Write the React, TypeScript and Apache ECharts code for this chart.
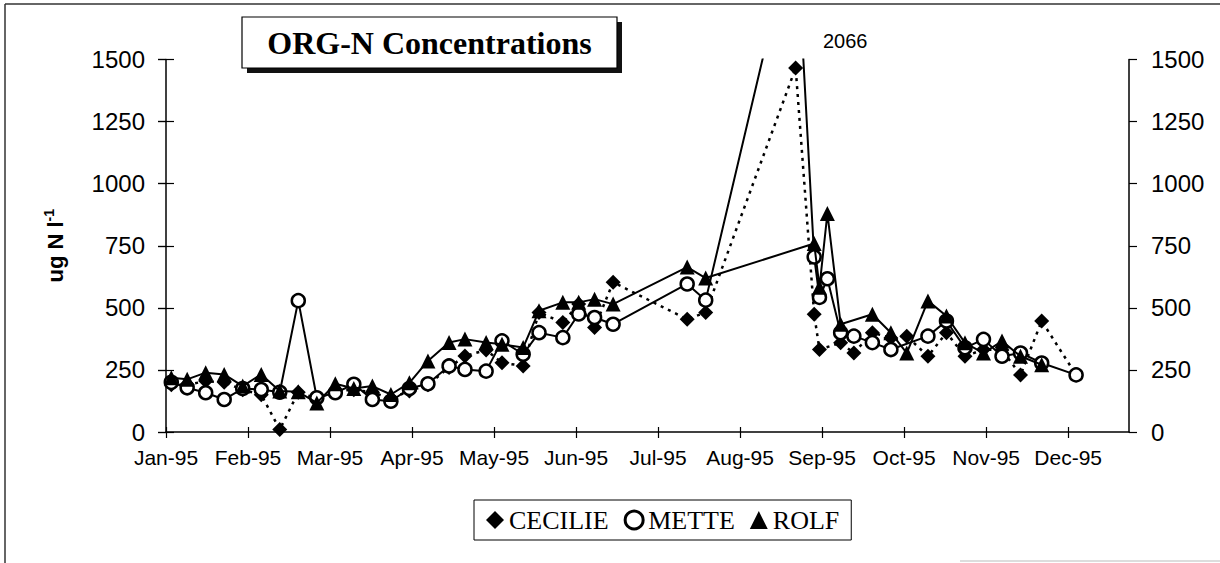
import React, { useEffect, useRef } from 'react';
import * as echarts from 'echarts';

// ---------- data ----------
const monthLabels = ['Jan-95', 'Feb-95', 'Mar-95', 'Apr-95', 'May-95', 'Jun-95', 'Jul-95', 'Aug-95', 'Sep-95', 'Oct-95', 'Nov-95', 'Dec-95'];
const MAJOR_UNIT_DAYS = 31;
const AXIS_END_DAY = 364;
const yTickValues = [0, 250, 500, 750, 1000, 1250, 1500];

const sampleDates = [
  '1995-01-03', '1995-01-09', '1995-01-16', '1995-01-23', '1995-01-30',
  '1995-02-06', '1995-02-13', '1995-02-20', '1995-02-27',
  '1995-03-06', '1995-03-13', '1995-03-20', '1995-03-27',
  '1995-04-03', '1995-04-10', '1995-04-18', '1995-04-24',
  '1995-05-02', '1995-05-08', '1995-05-16', '1995-05-22', '1995-05-31',
  '1995-06-06', '1995-06-12', '1995-06-19',
  '1995-07-17', '1995-07-24',
  '1995-08-27',
  '1995-09-03', '1995-09-05', '1995-09-08', '1995-09-13', '1995-09-18', '1995-09-25',
  '1995-10-02', '1995-10-08', '1995-10-16', '1995-10-23', '1995-10-30',
  '1995-11-06', '1995-11-13', '1995-11-20', '1995-11-28',
  '1995-12-11',
];

const cecilieValues: (number | null)[] = [
  190, 190, 205, 200, 170,
  150, 10, 160, 135,
  165, 170, 160, 135,
  165, 190, 260, 306,
  330, 279, 266, 481, 441,
  515, 421, 603,
  454, 481,
  1466,
  474, 332, null, 359, 318, 400,
  379, 386, 305, 400, 305,
  332, 330, 230, 447,
  230,
];

const metteValues: (number | null)[] = [
  200, 178, 158, 131, 175,
  171, 160, 529, 138,
  158, 192, 131, 124,
  175, 194, 266, 252,
  245, 367, 313, 400, 380,
  475, 461, 434,
  596, 531,
  2066,
  705, 542, 617, 400, 386, 360,
  332, null, 386, 447, 339,
  373, 305, 318, 278,
  230,
];

const rolfValues: (number | null)[] = [
  218, 212, 239, 232, 185,
  232, 165, 162, 117,
  194, 175, 185, 151,
  198, 286, 360, 374,
  360, 353, 340, 488, 522,
  522, 535, 515,
  664, 620,
  null,
  759, 583, 880, 434, null, 474,
  400, 318, 528, 467, 359,
  318, 366, 305, 271,
  null,
];

const peakNote = '2066';

// ---------- helpers ----------
const DAY0 = Date.UTC(1995, 0, 1);
const toDay = (d: string) => (Date.parse(d + 'T00:00:00Z') - DAY0) / 86400000;
const toPairs = (vals: (number | null)[]) =>
  sampleDates
    .map((d, i) => [toDay(d), vals[i]] as [number, number | null])
    .filter((p) => p[1] !== null);
const monthTickDays = monthLabels.map((_, i) => i * MAJOR_UNIT_DAYS);

const SANS = '"Liberation Sans", Arial, Helvetica, sans-serif';
const SERIF = '"Liberation Serif", "Times New Roman", Times, serif';

const axisLineStyle = { color: '#000', width: 1.5 };
const tickLineStyle = { color: '#000', width: 1.2 };

export default function App() {
  const ref = useRef<HTMLDivElement>(null);

  useEffect(() => {
    if (!ref.current) return;
    const chart = echarts.init(ref.current, undefined, { renderer: 'svg' });

    const baseY = {
      type: 'value' as const,
      min: yTickValues[0],
      max: yTickValues[yTickValues.length - 1],
      interval: yTickValues[1] - yTickValues[0],
      splitLine: { show: false },
    };
    const plainNumber = (v: number) => String(v);

    const option: any = {
      animation: false,
      backgroundColor: '#fff',
      grid: { left: 166, right: 91, top: 59.5, bottom: 131 },
      xAxis: [
        {
          type: 'value',
          min: 0,
          max: AXIS_END_DAY,
          interval: MAJOR_UNIT_DAYS,
          position: 'bottom',
          axisLine: { show: true, onZero: false, lineStyle: axisLineStyle },
          axisTick: { show: true, inside: false, length: 6, lineStyle: tickLineStyle, customValues: monthTickDays },
          axisLabel: {
            customValues: monthTickDays,
            formatter: (v: number) => monthLabels[Math.round(v / MAJOR_UNIT_DAYS)] ?? '',
            fontSize: 21,
            fontFamily: SANS,
            color: '#000',
            margin: 15,
          },
          splitLine: { show: false },
        },
        {
          type: 'value',
          min: 0,
          max: AXIS_END_DAY,
          interval: MAJOR_UNIT_DAYS,
          position: 'bottom',
          axisLine: { show: false, onZero: false },
          axisTick: { show: true, inside: true, length: 5, lineStyle: tickLineStyle, customValues: monthTickDays },
          axisLabel: { show: false },
          splitLine: { show: false },
        },
      ],
      yAxis: [
        {
          ...baseY,
          position: 'left',
          name: '{a|ug N l}{b|-1}',
          nameLocation: 'middle',
          nameGap: 98,
          nameRotate: 90,
          nameTextStyle: {
            rich: {
              a: { fontSize: 22, fontWeight: 'bold', fontFamily: SANS, color: '#000', lineHeight: 26 },
              b: { fontSize: 14, fontWeight: 'bold', fontFamily: SANS, color: '#000', verticalAlign: 'top', lineHeight: 26 },
            },
          },
          axisLine: { show: true, onZero: false, lineStyle: axisLineStyle },
          axisTick: { show: true, inside: false, length: 8, lineStyle: tickLineStyle },
          axisLabel: { fontSize: 24, fontFamily: SANS, color: '#000', margin: 21, formatter: plainNumber },
        },
        {
          ...baseY,
          position: 'right',
          axisLine: { show: true, onZero: false, lineStyle: axisLineStyle },
          axisTick: { show: true, inside: false, length: 8, lineStyle: tickLineStyle },
          axisLabel: { fontSize: 24, fontFamily: SANS, color: '#000', margin: 22, formatter: plainNumber },
        },
        {
          ...baseY,
          position: 'left',
          axisLine: { show: false },
          axisTick: { show: true, inside: true, length: 8, lineStyle: tickLineStyle },
          axisLabel: { show: false },
        },
        {
          ...baseY,
          position: 'right',
          axisLine: { show: false },
          axisTick: { show: true, inside: true, length: 8, lineStyle: tickLineStyle },
          axisLabel: { show: false },
        },
      ],
      legend: {
        left: 474,
        top: 500,
        orient: 'horizontal',
        data: [
          { name: 'CECILIE', icon: 'diamond' },
          { name: 'METTE', icon: 'circle', itemStyle: { color: '#fff', borderColor: '#000', borderWidth: 3 } },
          { name: 'ROLF', icon: 'triangle' },
        ],
        itemWidth: 18,
        itemHeight: 18,
        itemGap: 15,
        padding: [7, 12],
        borderColor: '#000',
        borderWidth: 1,
        backgroundColor: '#fff',
        selectedMode: false,
        textStyle: { fontSize: 26, fontFamily: SERIF, color: '#000' },
      },
      series: [
        {
          name: 'CECILIE',
          type: 'line',
          data: toPairs(cecilieValues),
          symbol: 'diamond',
          symbolSize: 15,
          itemStyle: { color: '#000' },
          lineStyle: { color: '#000', width: 2.5, type: [3, 5] },
          emphasis: { disabled: true },
          z: 2,
        },
        {
          name: 'METTE',
          type: 'line',
          data: toPairs(metteValues),
          symbol: 'circle',
          symbolSize: 13,
          itemStyle: { color: '#fff', borderColor: '#000', borderWidth: 2.5 },
          lineStyle: { color: '#000', width: 2 },
          emphasis: { disabled: true },
          z: 3,
        },
        {
          name: 'ROLF',
          type: 'line',
          data: toPairs(rolfValues),
          symbol: 'triangle',
          symbolSize: 15,
          itemStyle: { color: '#000' },
          lineStyle: { color: '#000', width: 2 },
          emphasis: { disabled: true },
          z: 4,
        },
      ],
      graphic: [
        // outer frame (left + top edges visible in the scan)
        { type: 'line', silent: true, shape: { x1: 5, y1: 4, x2: 5, y2: 563 }, style: { stroke: '#333', lineWidth: 1.5 } },
        { type: 'line', silent: true, shape: { x1: 5, y1: 4, x2: 1220, y2: 4 }, style: { stroke: '#333', lineWidth: 1.5 } },
        { type: 'line', silent: true, shape: { x1: 960, y1: 561, x2: 1220, y2: 561 }, style: { stroke: '#bbb', lineWidth: 1 } },
        // title box with shadow
        { type: 'rect', silent: true, shape: { x: 247, y: 22, width: 375, height: 51 }, style: { fill: '#111' } },
        { type: 'rect', silent: true, shape: { x: 242, y: 17, width: 375, height: 51 }, style: { fill: '#fff', stroke: '#000', lineWidth: 1.2 } },
        {
          type: 'text',
          silent: true,
          x: 429.5,
          y: 43,
          style: {
            text: 'ORG-N Concentrations',
            fontSize: 32,
            fontWeight: 'bold',
            fontFamily: SERIF,
            fill: '#000',
            align: 'center',
            verticalAlign: 'middle',
          },
        },
        {
          type: 'text',
          silent: true,
          x: 823,
          y: 41,
          style: { text: peakNote, fontSize: 20, fontFamily: SANS, fill: '#000', align: 'left', verticalAlign: 'middle' },
        },
      ],
    };

    chart.setOption(option);
    return () => chart.dispose();
  }, []);

  return (
    <div
      ref={ref}
      style={{ position: 'fixed', left: 0, top: 0, width: 1220, height: 563, background: '#fff' }}
    />
  );
}
